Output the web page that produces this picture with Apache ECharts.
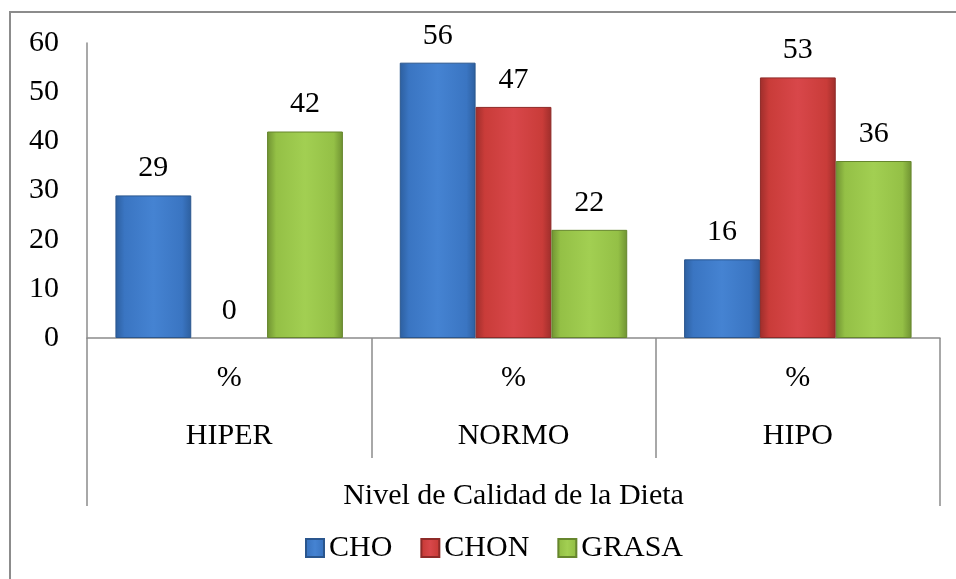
<!DOCTYPE html>
<html>
<head>
<meta charset="utf-8">
<script src="https://cdn.jsdelivr.net/npm/echarts@6/dist/echarts.min.js"></script>
<style>
  html, body { margin: 0; padding: 0; background: #fff; }
  #chart { position: absolute; left: 0; top: 0; width: 956px; height: 579px; }
  #frame { position: absolute; left: 9px; top: 11px; width: 960px; height: 600px;
           border-top: 2px solid #8c8c8c; border-left: 2px solid #8c8c8c; }
</style>
</head>
<body>
<div id="chart"></div>
<div id="frame"></div>
<script>
// datos del grafico
const categories = ['HIPER', 'NORMO', 'HIPO']
const axisTitle = 'Nivel de Calidad de la Dieta'
const choValues = [29, 56, 16]
const chonValues = [0, 47, 53]
const grasaValues = [42, 22, 36]
const yTicks = { min: 0, max: 60, interval: 10 }

const font = '"Liberation Serif", "Times New Roman", serif'

// relleno con efecto de bisel (degradado horizontal)
const bevel = (edge, mid, light) => ({
  type: 'linear', x: 0, y: 0, x2: 1, y2: 0,
  colorStops: [
    { offset: 0, color: edge },
    { offset: 0.12, color: mid },
    { offset: 0.5, color: light },
    { offset: 0.88, color: mid },
    { offset: 1, color: edge }
  ]
})

const makeSeries = (name, data, fill, border) => ({
  name: name,
  type: 'bar',
  // barra de valor 0: sin borde, solo la etiqueta
  data: data.map(v => v === 0 ? { value: v, itemStyle: { borderWidth: 0 } } : v),
  barGap: '0%',
  barCategoryGap: '20%',
  itemStyle: { color: fill, borderColor: border, borderWidth: 1 },
  label: {
    show: true,
    position: 'top',
    distance: 12,
    color: '#000',
    fontFamily: font,
    fontSize: 30
  }
})

const chart = echarts.init(document.getElementById('chart'))
chart.setOption({
  animation: false,
  textStyle: { fontFamily: font },
  grid: { left: 87, right: 16, top: 43, bottom: 241, containLabel: false },
  legend: {
    left: 300,
    top: 528,
    itemWidth: 18,
    itemHeight: 18,
    itemGap: 28,
    icon: 'rect',
    textStyle: { fontFamily: font, fontSize: 30, color: '#000', padding: [2, 0, 0, 0] },
    data: ['CHO', 'CHON', 'GRASA']
  },
  xAxis: [
    {
      type: 'category',
      data: categories,
      position: 'bottom',
      axisLine: { show: true, lineStyle: { color: '#8c8c8c', width: 1.5 } },
      axisTick: { show: true, interval: 0, length: 120, lineStyle: { color: '#8c8c8c', width: 1.5 } },
      axisLabel: {
        interval: 0,
        margin: 11,
        color: '#000',
        fontFamily: font,
        fontSize: 30,
        lineHeight: 58,
        formatter: v => '%\n' + v
      }
    },
    {
      type: 'category',
      data: [axisTitle],
      position: 'bottom',
      axisLine: { show: false },
      axisTick: { show: true, interval: 0, length: 168, lineStyle: { color: '#8c8c8c', width: 1.5 } },
      axisLabel: {
        interval: 0,
        margin: 143,
        color: '#000',
        fontFamily: font,
        fontSize: 30,
        lineHeight: 30
      }
    }
  ],
  yAxis: {
    type: 'value',
    min: yTicks.min,
    max: yTicks.max,
    interval: yTicks.interval,
    axisLine: { show: true, lineStyle: { color: '#8c8c8c', width: 1.5 } },
    axisTick: { show: false },
    splitLine: { show: false },
    axisLabel: { margin: 28, color: '#000', fontFamily: font, fontSize: 30 }
  },
  series: [
    makeSeries('CHO', choValues, bevel('#2d5f9f', '#3a75c2', '#4583d2'), '#2a568e'),
    makeSeries('CHON', chonValues, bevel('#9e2e2b', '#c93c39', '#d8474a'), '#8e2a28'),
    makeSeries('GRASA', grasaValues, bevel('#6f9232', '#94c046', '#a2cf52'), '#66862d')
  ]
})
</script>
</body>
</html>
